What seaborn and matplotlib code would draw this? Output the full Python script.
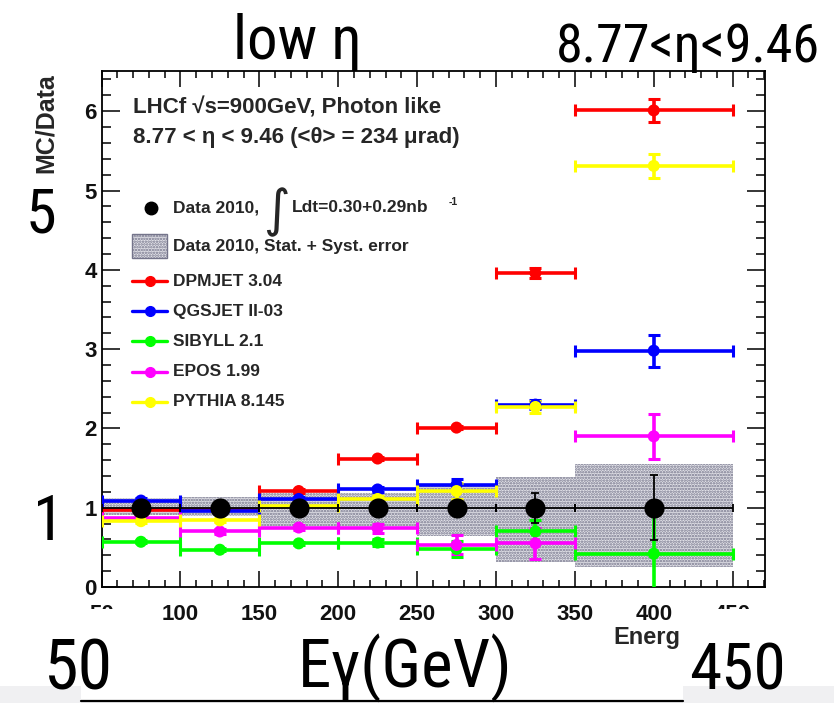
import matplotlib
matplotlib.use("Agg")
import numpy as np
import pandas as pd
import matplotlib.pyplot as plt
from matplotlib import font_manager as fm
from matplotlib.font_manager import FontProperties
from matplotlib.textpath import TextPath
from matplotlib.lines import Line2D
from matplotlib.patches import Rectangle
from matplotlib.ticker import MultipleLocator
import seaborn as sns

W, H = 834, 703

# Energy bins (GeV)
bin_lo = [50, 100, 150, 200, 250, 300, 350]
bin_hi = [100, 150, 200, 250, 300, 350, 450]
centers = [75, 125, 175, 225, 275, 325, 400]

# Data points (MC/Data = 1 by construction) and the stat+syst band
data_ratio = [1.0, 1.0, 1.0, 1.0, 1.0, 1.0, 1.0]
data_err = [0.01, 0.01, 0.02, 0.02, 0.07, 0.19, 0.41]
syst_lo = [0.91, 0.89, 0.77, 0.77, 0.64, 0.32, 0.25]
syst_hi = [1.12, 1.13, 1.18, 1.18, 1.30, 1.39, 1.55]

# Model / data ratios
dpmjet = [0.97, 0.97, 1.21, 1.62, 2.01, 3.96, 6.01]
dpmjet_err = [0.02, 0.02, 0.02, 0.02, 0.02, 0.06, 0.15]
qgsjet = [1.09, 0.96, 1.11, 1.23, 1.29, 2.30, 2.98]
qgsjet_err = [0.03, 0.02, 0.03, 0.03, 0.07, 0.06, 0.20]
sibyll = [0.57, 0.47, 0.55, 0.56, 0.48, 0.70, 0.42]
sibyll_err = [0.02, 0.02, 0.02, 0.04, 0.10, 0.15, 0.55]
epos = [0.87, 0.70, 0.75, 0.74, 0.53, 0.55, 1.90]
epos_err = [0.02, 0.03, 0.03, 0.06, 0.12, 0.20, 0.28]
pythia = [0.83, 0.84, 1.02, 1.11, 1.21, 2.27, 5.31]
pythia_err = [0.02, 0.02, 0.03, 0.04, 0.10, 0.08, 0.15]

model_names = ["DPMJET 3.04", "QGSJET II-03", "SIBYLL 2.1", "EPOS 1.99", "PYTHIA 8.145"]
model_colors = ["#ff0000", "#0000ff", "#00ff00", "#ff00ff", "#ffff00"]
model_vals = [dpmjet, qgsjet, sibyll, epos, pythia]
model_errs = [dpmjet_err, qgsjet_err, sibyll_err, epos_err, pythia_err]

sns.set_theme(style="ticks")
plt.rcParams["font.family"] = ["Liberation Sans", "DejaVu Sans"]
plt.rcParams["font.weight"] = "bold"
plt.rcParams["hatch.linewidth"] = 1.2


def pick_narrow_font():
    """Prefer a narrow / condensed sans for the large annotations."""
    names = {f.name for f in fm.fontManager.ttflist}
    for cand in ["Liberation Sans Narrow", "DejaVu Sans Condensed",
                 "Roboto Condensed", "Open Sans Condensed", "Noto Sans Condensed"]:
        if cand in names:
            return FontProperties(family=cand, weight="normal")
    for f in fm.fontManager.ttflist:
        if f.stretch in ("condensed", "semi-condensed", "extra-condensed") \
                and f.weight in (400, "normal", "regular") and f.style == "normal":
            return FontProperties(fname=f.fname)
    return FontProperties(family="Liberation Sans", weight="normal")


BIG_FP = pick_narrow_font()


def fx(x):
    return x / W


def fy(y):
    return 1 - y / H


def fitted_size(s, width_px, height_px):
    """Font size (pt) whose ink extent best matches a target box."""
    ext = TextPath((0, 0), s, size=100, prop=BIG_FP).get_extents()
    px_per_pt = 100 / 72.0
    fs_w = width_px / (ext.width / 100 * px_per_pt)
    fs_h = height_px / (ext.height / 100 * px_per_pt)
    return min(fs_h, np.sqrt(fs_h * fs_w))


fig = plt.figure(figsize=(W / 100, H / 100), dpi=100)
fig.patch.set_facecolor("white")
ax = fig.add_axes([fx(101.5), fy(587), (765 - 101.5) / W, (587 - 71) / H])
ax.set_facecolor("white")

lo = np.array(bin_lo, float)
hi = np.array(bin_hi, float)
xerr = [np.array(centers) - lo, hi - np.array(centers)]

# Stat + syst band of the data
ax.bar(lo, np.array(syst_hi) - np.array(syst_lo), bottom=syst_lo,
       width=hi - lo, align="edge", facecolor="#e2e2e8", edgecolor="#74748a",
       hatch="......", linewidth=0, zorder=1)

# Model ratios with their bin widths and errors
long_rows = []
for name, col, vals, errs in zip(model_names, model_colors, model_vals, model_errs):
    ax.errorbar(centers, vals, xerr=xerr, yerr=errs, fmt="none", ecolor=col,
                elinewidth=2.6, capsize=4, capthick=2.2, zorder=3)
    for c, v in zip(centers, vals):
        long_rows.append({"energy": c, "ratio": v, "model": name})
models_df = pd.DataFrame(long_rows)
sns.scatterplot(data=models_df, x="energy", y="ratio", hue="model",
                hue_order=model_names, palette=model_colors, s=75,
                linewidth=0, legend=False, zorder=4, ax=ax)

# Data points
ax.errorbar(centers, data_ratio, xerr=xerr, yerr=data_err, fmt="none",
            ecolor="black", elinewidth=1.3, capsize=3, capthick=1.3, zorder=5)
sns.scatterplot(x=centers, y=data_ratio, color="black", s=210, linewidth=0,
                zorder=6, ax=ax)

ax.set_xlim(50, 470.5)
ax.set_ylim(0, 6.507)
ax.xaxis.set_major_locator(MultipleLocator(50))
ax.xaxis.set_minor_locator(MultipleLocator(10))
ax.yaxis.set_major_locator(MultipleLocator(1))
ax.yaxis.set_minor_locator(MultipleLocator(0.2))
ax.tick_params(which="both", direction="in", top=True, right=True,
               width=1.1, color="black", labelsize=16, labelcolor="#111111")
ax.tick_params(axis="y", which="major", length=13, pad=3.5)
ax.tick_params(axis="y", which="minor", length=6.5)
ax.tick_params(axis="x", which="major", length=11.5, pad=12)
ax.tick_params(axis="x", which="minor", length=5)
for lab in ax.get_xticklabels() + ax.get_yticklabels():
    lab.set_fontweight("bold")
for sp in ax.spines.values():
    sp.set_color("black")
    sp.set_linewidth(1.3)
ax.set_xlabel("")
ax.set_ylabel("")

# Axis titles (the x title runs under the pasted panel, only its start shows)
fig.text(fx(613), fy(644), "Energ", ha="left", va="baseline",
         fontsize=17, fontweight="bold")
fig.text(fx(46), fy(73), "MC/Data", rotation=90, ha="center", va="top",
         fontsize=18, fontweight="bold")

# Header
fig.text(fx(133), fy(108), "LHCf √s=900GeV, Photon like", ha="left",
         va="center", fontsize=16, fontweight="bold")
fig.text(fx(133), fy(137), "8.77 < η < 9.46 (<θ> = 234 μrad)", ha="left",
         va="center", fontsize=16, fontweight="bold")

# Legend
tf = fig.transFigure
LEG_FS = 12.5
fig.add_artist(Line2D([fx(151)], [fy(208)], marker="o", ms=9, color="black",
                      linestyle="none", transform=tf))
fig.text(fx(173), fy(208), "Data 2010,", ha="left", va="center",
         fontsize=LEG_FS, fontweight="bold")
fig.text(fx(276), fy(212), "$\\int$", ha="center", va="center",
         fontsize=26, fontweight="normal")
fig.text(fx(292), fy(208), "Ldt=0.30+0.29nb", ha="left", va="center",
         fontsize=LEG_FS, fontweight="bold")
fig.text(fx(449), fy(202), "-1", ha="left", va="center",
         fontsize=7.5, fontweight="bold")
fig.add_artist(Rectangle((fx(132), fy(258)), 35 / W, 24 / H, transform=tf,
                         facecolor="#e2e2e8", edgecolor="#74748a",
                         hatch="......", linewidth=1.0))
fig.text(fx(173), fy(246), "Data 2010, Stat. + Syst. error", ha="left",
         va="center", fontsize=LEG_FS, fontweight="bold")
for i, (name, col) in enumerate(zip(model_names, model_colors)):
    yy = fy(281 + i * 30.2)
    fig.add_artist(Line2D([fx(132), fx(167)], [yy, yy], color=col, lw=2.4,
                          transform=tf))
    fig.add_artist(Line2D([fx(150)], [yy], marker="o", ms=7, color=col,
                          linestyle="none", transform=tf))
    fig.text(fx(173), yy, name, ha="left", va="center", fontsize=LEG_FS,
             fontweight="bold")

# Annotation panels pasted over the lower corners
for (x0, y0, x1, y1) in [(0, 609, 128, 703), (683, 609, 834, 703)]:
    fig.add_artist(Rectangle((fx(x0), fy(y1)), (x1 - x0) / W, (y1 - y0) / H,
                             transform=tf, facecolor="white", edgecolor="none",
                             zorder=5))
fig.add_artist(Rectangle((0, 0), 1, (703 - 686) / H, transform=tf,
                         facecolor="#f0f0f2", edgecolor="none", zorder=5))
fig.add_artist(Rectangle((fx(81), fy(700)), (683 - 81) / W, 14 / H,
                         transform=tf, facecolor="white", edgecolor="none",
                         zorder=5.1))
fig.add_artist(Line2D([fx(81), fx(683)], [fy(700.5), fy(700.5)], color="black",
                      lw=1.6, transform=tf, zorder=5.2))

# Large annotations: (text, centre x, baseline y, ink width, ink height)
big_notes = [
    ("low η", 297, 59, 125, 58),
    ("8.77<η<9.46", 688, 62, 253, 51),
    ("5", 41, 232, 25, 45),
    ("1", 49, 540, 22, 45),
    ("50", 78, 690, 53, 58),
    ("Eγ(GeV)", 405, 688, 200, 71),
    ("450", 737, 690, 75, 58),
]
for s, cx, base, wpx, hpx in big_notes:
    fs = fitted_size(s, wpx, hpx)
    fig.text(fx(cx), fy(base), s, ha="center", va="baseline",
             fontproperties=BIG_FP, fontsize=fs, color="black", zorder=7)

fig.savefig("out.png", dpi=100, facecolor="white")
